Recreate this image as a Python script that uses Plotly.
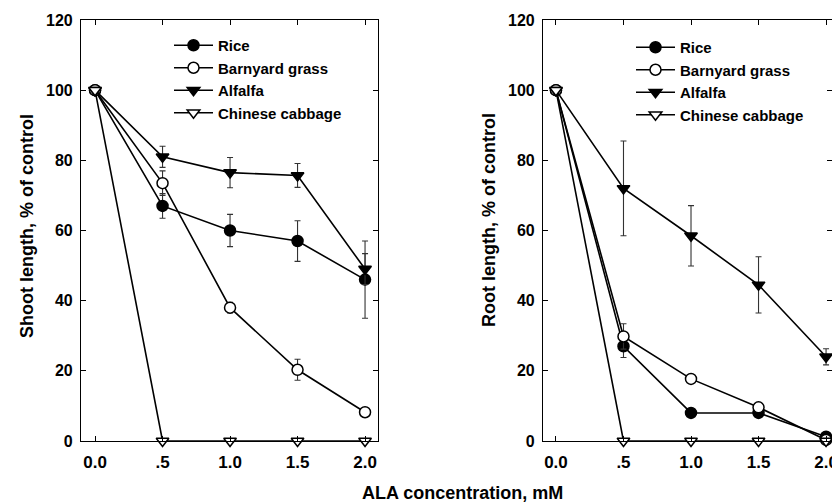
import plotly.graph_objects as go

# ---- data ----
conc = [0.0, 0.5, 1.0, 1.5, 2.0]
x_tickvals = [0.0, 0.5, 1.0, 1.5, 2.0]
x_ticktext = ["0.0", ".5", "1.0", "1.5", "2.0"]
y_tickvals = [0, 20, 40, 60, 80, 100, 120]

species = ["Rice", "Barnyard grass", "Alfalfa", "Chinese cabbage"]

shoot_rice = [100, 67, 60, 57, 46]
shoot_rice_err = [0, 3.5, 4.6, 5.8, 11]
shoot_barn = [100, 73.5, 38, 20.3, 8.2]
shoot_barn_err = [0, 3.5, 1.5, 3, 0]
shoot_alf = [100, 81, 76.5, 75.7, 49]
shoot_alf_err = [0, 3, 4.3, 3.4, 4.4]
shoot_cab = [100, 0, 0, 0, 0]
shoot_cab_err = [0, 0, 0, 0, 0]

root_rice = [100, 27, 8, 8, 1.2]
root_rice_err = [0, 3.2, 0, 0, 0]
root_barn = [100, 29.8, 17.7, 9.6, 0.3]
root_barn_err = [0, 3.6, 0, 0, 0]
root_alf = [100, 72, 58.5, 44.5, 24]
root_alf_err = [0, 13.5, 8.6, 8, 2.3]
root_cab = [100, 0, 0, 0, 0]
root_cab_err = [0, 0, 0, 0, 0]

styles = {
    "Rice": dict(symbol="circle", color="black", size=11),
    "Barnyard grass": dict(symbol="circle", color="white", size=11),
    "Alfalfa": dict(symbol="triangle-down", color="black", size=11),
    "Chinese cabbage": dict(symbol="triangle-down", color="white", size=11),
}

FONT = "Liberation Sans, Arial, Helvetica, sans-serif"

fig = go.Figure()

def add_panel(series, xa, ya, legend):
    for name, (vals, errs) in zip(species, series):
        st = styles[name]
        fig.add_trace(go.Scatter(
            x=conc, y=vals, name=name, mode="lines+markers",
            xaxis=xa, yaxis=ya, legend=legend, cliponaxis=False,
            line=dict(color="black", width=1.6),
            marker=dict(symbol=st["symbol"], size=st["size"], color=st["color"],
                        line=dict(color="black", width=1.5)),
            error_y=dict(type="data", array=errs, visible=True,
                         color="#333333", thickness=1.1, width=3),
        ))

add_panel([(shoot_rice, shoot_rice_err), (shoot_barn, shoot_barn_err),
           (shoot_alf, shoot_alf_err), (shoot_cab, shoot_cab_err)], "x", "y", "legend")
add_panel([(root_rice, root_rice_err), (root_barn, root_barn_err),
           (root_alf, root_alf_err), (root_cab, root_cab_err)], "x2", "y2", "legend2")

W, H = 832, 503


def px(X):
    return X / W


def py(Y):
    return 1 - Y / H


ydom = [py(441), py(20)]

xcommon = dict(tickvals=x_tickvals, ticktext=x_ticktext, ticks="inside", ticklen=5,
               tickcolor="black", showline=True, linecolor="black", linewidth=1.2,
               mirror="ticks", showgrid=False, zeroline=False, automargin=False,
               tickfont=dict(family=FONT, size=17, color="black", weight="bold"),
               ticklabelstandoff=5, ticklabeloverflow="allow")
ycommon = dict(tickvals=y_tickvals, range=[0, 120], ticks="inside", ticklen=5,
               tickcolor="black", showline=True, linecolor="black", linewidth=1.2,
               mirror="ticks", showgrid=False, zeroline=False, automargin=False,
               tickfont=dict(family=FONT, size=16, color="black", weight="bold"),
               ticklabelstandoff=4)

legcommon = dict(font=dict(family=FONT, size=15, color="black", weight="bold"),
                 bgcolor="rgba(0,0,0,0)", itemwidth=39, yanchor="top",
                 xanchor="left", tracegroupgap=0, itemclick=False)

fig.update_layout(
    width=W, height=H, margin=dict(l=0, r=0, t=0, b=0, autoexpand=False),
    paper_bgcolor="white", plot_bgcolor="white",
    xaxis=dict(domain=[px(81), px(378)], range=[-0.104, 2.096], anchor="y", **xcommon),
    yaxis=dict(domain=ydom, anchor="x", **ycommon),
    xaxis2=dict(domain=[px(543), 1.0], range=[-0.096, 2.044], anchor="y2", **xcommon),
    yaxis2=dict(domain=ydom, anchor="x2", **ycommon),
    legend=dict(x=px(169), y=py(29), **legcommon),
    legend2=dict(x=px(631), y=py(31), **legcommon),
    showlegend=True,
    annotations=[
        dict(text="Shoot length, % of control", x=px(27), y=py(226),
             xref="paper", yref="paper", textangle=-90, showarrow=False,
             xanchor="center", yanchor="middle",
             font=dict(family=FONT, size=18, color="black", weight="bold")),
        dict(text="Root length, % of control", x=px(489), y=py(220),
             xref="paper", yref="paper", textangle=-90, showarrow=False,
             xanchor="center", yanchor="middle",
             font=dict(family=FONT, size=18, color="black", weight="bold")),
        dict(text="ALA concentration, mM", x=px(462), y=py(493),
             xref="paper", yref="paper", showarrow=False,
             xanchor="center", yanchor="middle",
             font=dict(family=FONT, size=18, color="black", weight="bold")),
    ],
)

fig.write_html(
    "out.html",
    config={"displayModeBar": False},
    post_script="document.body.style.margin='0';document.body.style.overflow='hidden';"
                "document.documentElement.style.overflow='hidden';",
)
